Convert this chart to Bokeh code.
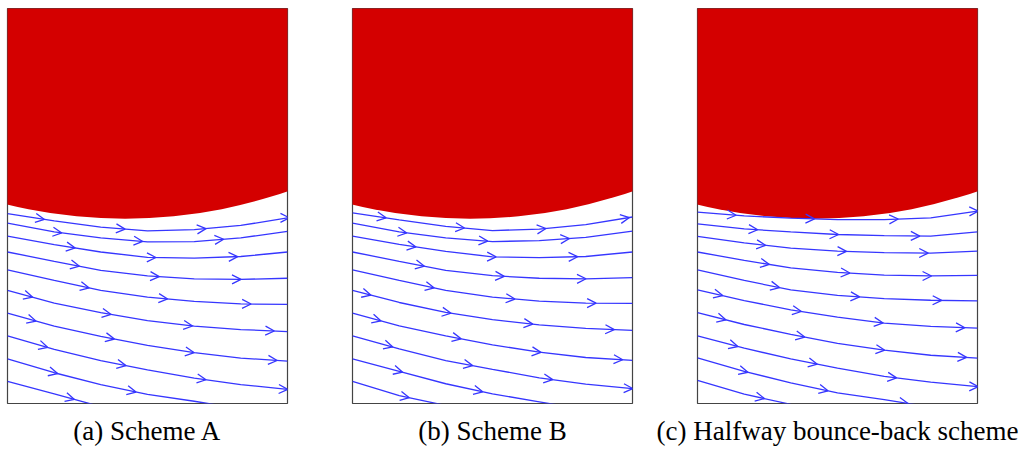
import numpy as np
from bokeh.plotting import figure
from bokeh.layouts import row
from bokeh.models import Range1d, Arrow, OpenHead, ColumnDataSource
from bokeh.embed import file_html
from bokeh.resources import INLINE

# ---------------- data ----------------
x_samples = [0, 16.7, 33.3, 50, 66.7, 83.3, 100]

captions = ["(a) Scheme A", "(b) Scheme B", "(c) Halfway bounce-back scheme"]

# cylinder (red solid) : centre x, lowest point y, radius
cyl_cx = 42.0
cyl_bottom = 65.5
cyl_r = 175.5

# streamline y-values at x_samples, one list per streamline
lines_a = [
    [67.3, 64.7, 62.5, 61.2, 61.6, 63.1, 65.8],
    [63.9, 60.8, 58.7, 57.3, 57.4, 58.7, 61.0],
    [59.3, 56.3, 53.7, 51.8, 51.5, 52.1, 53.7],
    [53.7, 50.4, 47.2, 45.2, 44.2, 44.0, 44.4],
    [47.4, 43.6, 40.1, 37.7, 36.2, 35.3, 35.1],
    [40.1, 35.6, 32.2, 29.4, 27.4, 26.2, 25.5],
    [32.0, 27.4, 23.8, 20.6, 18.0, 16.1, 15.0],
    [24.0, 19.2, 15.2, 11.9, 9.0, 6.7, 5.0],
    [15.8, 10.9, 6.7, 3.2, 0.8, -1.9, -4.3],
    [7.8, 3.4, -1.1, -3.7, -6.0, -8.4, -10.8],
]
lines_b = [
    [67.6, 65.1, 62.8, 61.3, 61.8, 63.4, 66.1],
    [63.9, 60.8, 58.7, 57.4, 57.7, 58.9, 61.1],
    [59.3, 56.4, 53.9, 52.0, 51.7, 52.1, 53.7],
    [53.7, 50.4, 47.2, 45.3, 44.4, 44.2, 44.6],
    [47.4, 43.6, 40.1, 37.7, 36.3, 35.6, 35.5],
    [40.1, 35.8, 32.3, 29.7, 27.9, 26.6, 25.9],
    [32.0, 27.5, 24.0, 20.8, 18.2, 16.3, 15.3],
    [24.0, 19.4, 15.2, 12.1, 9.1, 6.9, 5.3],
    [15.8, 11.4, 7.0, 3.4, 0.6, -2.2, -4.8],
    [7.8, 2.8, -0.7, -3.7, -6.0, -8.4, -10.8],
]
lines_c = [
    [67.8, 66.5, 65.7, 65.2, 65.2, 65.8, 68.2],
    [63.7, 61.9, 60.8, 59.9, 59.5, 59.3, 60.8],
    [59.2, 56.9, 55.1, 54.0, 53.5, 53.3, 54.0],
    [53.7, 50.7, 48.1, 46.5, 45.5, 45.2, 45.4],
    [47.4, 43.6, 40.3, 38.3, 37.2, 36.6, 36.4],
    [40.3, 36.5, 33.2, 30.6, 28.5, 27.3, 26.7],
    [32.2, 28.0, 24.5, 21.3, 18.9, 17.1, 16.1],
    [24.0, 19.6, 15.8, 12.5, 9.6, 7.6, 6.0],
    [16.2, 11.4, 7.3, 3.8, 1.4, -1.3, -4.3],
    [8.2, 3.3, -0.3, -3.7, -6.0, -8.4, -10.8],
]

# x-positions of the arrow heads on each streamline
arrows_a = [
    [11.7, 40.5, 69.4, 99.2],
    [17.9, 46.8, 75.7],
    [22.7, 51.5, 80.7],
    [24.2, 52.7, 81.9],
    [27.7, 55.7, 85.5],
    [7.5, 35.5, 64.6, 93.8],
    [8.7, 36.7, 65.2, 94.8],
    [12.9, 40.8, 69.4, 98.6],
    [16.4, 44.4],
    [22.4],
]
arrows_b = [
    [10.5, 38.5, 67.6, 97.4],
    [17.9, 46.8, 76.0],
    [21.2, 49.8, 78.9],
    [24.2, 52.7, 81.9],
    [27.7, 56.5, 85.5],
    [5.1, 33.7, 62.9, 92.0],
    [8.7, 37.3, 65.8, 95.0],
    [12.9, 41.4, 70.0, 98.6],
    [16.4, 45.0],
    [18.8],
]
arrows_c = [
    [12.3, 40.3, 70.2, 98.8],
    [20.0, 48.9, 77.9],
    [22.8, 51.7, 80.9],
    [24.2, 52.9, 82.1],
    [27.8, 56.4, 85.7],
    [7.5, 35.6, 64.8, 94.0],
    [8.7, 36.8, 65.4, 94.6],
    [12.9, 41.3, 69.6, 98.8],
    [16.5, 45.1, 73.7],
    [22.4],
]

# ---------------- drawing ----------------
RED = "#d40000"
BLUE = "#3636ff"


def panel(lines, arrows, caption, left, right):
    p = figure(frame_width=280, frame_height=395,
               min_border_left=left, min_border_right=right,
               min_border_top=8, min_border_bottom=47,
               x_range=Range1d(0, 100), y_range=Range1d(0, 140),
               x_axis_type=None, y_axis_type=None,
               title=caption, title_location="below",
               output_backend="svg", toolbar_location=None,
               background_fill_color="white", border_fill_color="white")
    p.grid.visible = False
    p.outline_line_color = "#444444"
    p.outline_line_width = 1.2
    p.title.align = "center"
    p.title.text_font = "Liberation Serif"
    p.title.text_font_size = "27px"
    p.title.text_font_style = "normal"
    p.title.text_color = "black"
    p.title.standoff = 20

    p.circle(x=[cyl_cx], y=[cyl_bottom + cyl_r], radius=cyl_r,
             radius_dimension="y", fill_color=RED, line_color=None)

    xs = np.array(x_samples, dtype=float)
    x0s, y0s, x1s, y1s = [], [], [], []
    for ys, axs in zip(lines, arrows):
        ys = np.array(ys, dtype=float)
        p.line(xs, ys, line_color=BLUE, line_width=1.3)
        for ax in axs:
            tip = ax + 1.5
            y = np.interp(tip, xs, ys)
            dy = np.interp(tip + 0.5, xs, ys) - np.interp(tip - 0.5, xs, ys)
            n = np.hypot(1.0, dy)
            x0s.append(tip - 1.0 / n)
            y0s.append(y - dy / n)
            x1s.append(tip)
            y1s.append(y)
    src = ColumnDataSource(dict(x0=x0s, y0=y0s, x1=x1s, y1=y1s))
    p.add_layout(Arrow(x_start="x0", y_start="y0", x_end="x1", y_end="y1",
                       source=src, line_alpha=0.0,
                       end=OpenHead(size=9, line_color=BLUE, line_width=1.3)))
    return p


pa = panel(lines_a, arrows_a, captions[0], 7, 33)
pb = panel(lines_b, arrows_b, captions[1], 32, 18)
pc = panel(lines_c, arrows_c, captions[2], 47, 44)

layout = row(pa, pb, pc, spacing=0)

open("out.html", "w").write(file_html(layout, INLINE))
